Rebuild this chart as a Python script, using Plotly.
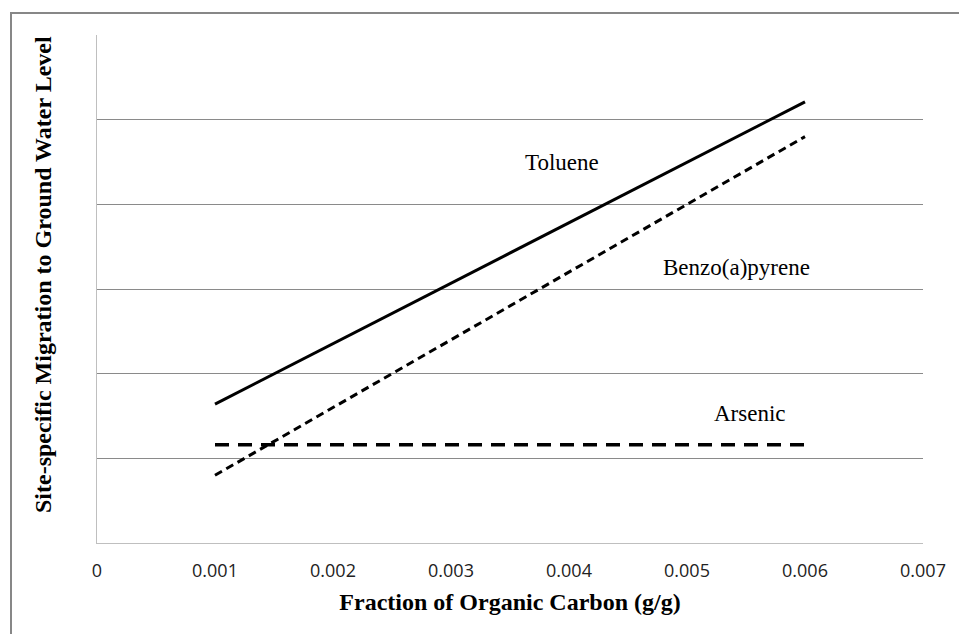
import plotly.graph_objects as go

# ---- data ----
x_vals = [0.001, 0.006]
toluene = [1.64, 5.21]
benzo = [0.80, 4.80]
arsenic = [1.16, 1.16]
x_ticks = [0, 0.001, 0.002, 0.003, 0.004, 0.005, 0.006, 0.007]
x_tick_labels = ["0", "0.001", "0.002", "0.003", "0.004", "0.005", "0.006", "0.007"]

W, H = 959, 634
L, R, T, B = 97, 36, 35, 91
pw, ph = W - L - R, H - T - B

fig = go.Figure()
fig.add_trace(go.Scatter(x=x_vals, y=toluene, mode="lines", name="Toluene",
                         line=dict(color="black", width=3)))
fig.add_trace(go.Scatter(x=x_vals, y=benzo, mode="lines", name="Benzo(a)pyrene",
                         line=dict(color="black", width=3, dash="8px,5px")))
fig.add_trace(go.Scatter(x=x_vals, y=arsenic, mode="lines", name="Arsenic",
                         line=dict(color="black", width=3.5, dash="14px,9px")))

serif = "Liberation Serif, Times New Roman, serif"
for txt, ax_, ay_ in [("Toluene", 0.00394, 4.50),
                      ("Benzo(a)pyrene", 0.00542, 3.25),
                      ("Arsenic", 0.00553, 1.535)]:
    fig.add_annotation(x=ax_, y=ay_, text=txt, showarrow=False,
                       font=dict(family=serif, size=23, color="black"))

px2x = lambda px: (px - L) / pw
py2y = lambda py: (H - B - py) / ph

# y-axis title (as rotated annotation)
fig.add_annotation(xref="paper", yref="paper", x=px2x(43), y=py2y(275),
                   xanchor="center", yanchor="middle",
                   text="<b>Site-specific Migration to Ground Water Level</b>",
                   textangle=-90, showarrow=False,
                   font=dict(family=serif, size=24, color="black"))

# outer chart border
fig.add_shape(type="path", xref="paper", yref="paper",
              path=f"M {px2x(11)} {py2y(700)} L {px2x(11)} {py2y(13)} L {px2x(1000)} {py2y(13)}",
              line=dict(color="#878787", width=2))

fig.update_layout(
    width=W, height=H,
    margin=dict(l=L, r=R, t=T, b=B),
    paper_bgcolor="white", plot_bgcolor="white",
    showlegend=False,
    xaxis=dict(range=[0, 0.007], tickvals=x_ticks, ticktext=x_tick_labels,
               showgrid=False, zeroline=False, showline=True, linecolor="#bfbfbf",
               linewidth=1, ticks="", ticklabelstandoff=11,
               tickfont=dict(family="Open Sans, sans-serif", size=18, color="#222"),
               title=dict(text="<b>Fraction of Organic Carbon (g/g)</b>",
                          font=dict(family=serif, size=24, color="black"), standoff=12)),
    yaxis=dict(range=[0, 6], dtick=1, showgrid=True, gridcolor="#8a8a8a", gridwidth=1,
               zeroline=False, showline=True, linecolor="#bfbfbf", linewidth=1,
               showticklabels=False, ticks=""),
)

fig.write_html("out.html", config={"displayModeBar": False},
               post_script="document.body.style.margin='0';document.body.style.overflow='hidden';")
